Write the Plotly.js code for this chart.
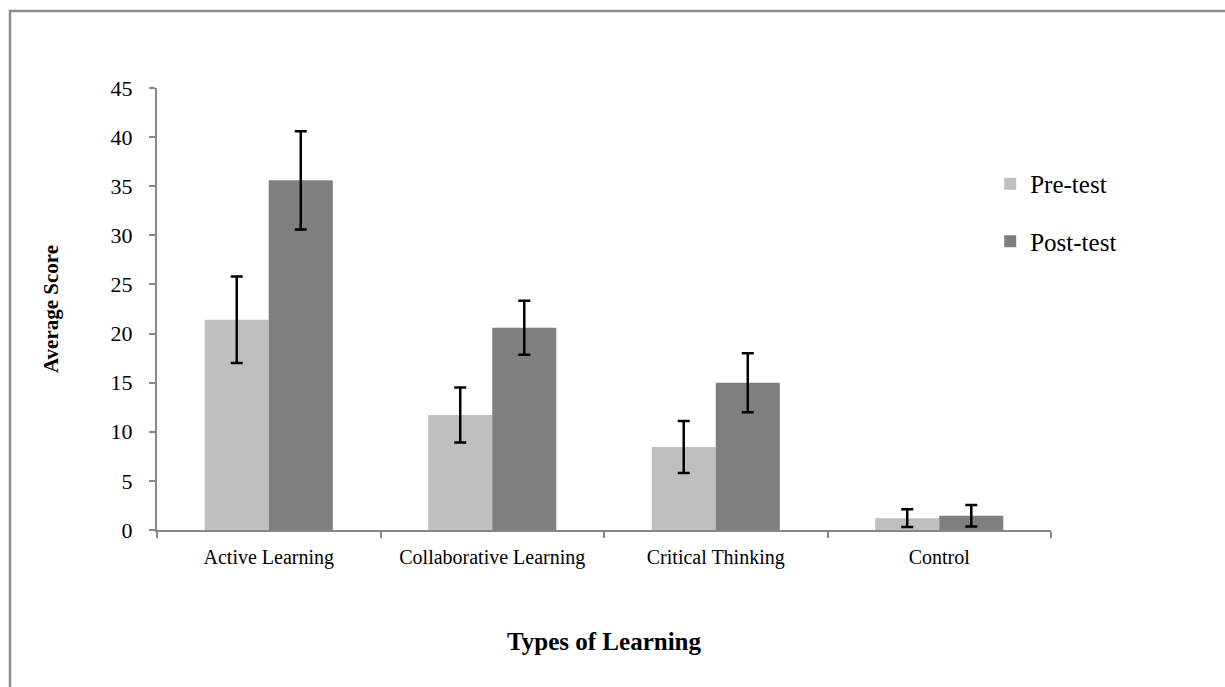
<!DOCTYPE html>
<html>
<head>
<meta charset="utf-8">
<script src="https://cdn.plot.ly/plotly-3.0.1.min.js"></script>
<style>
html,body{margin:0;padding:0;background:#fff;}
#chart{width:1225px;height:687px;}
#chart .legendtext{font-family:"Liberation Serif","Times New Roman",serif !important;}
</style>
</head>
<body>
<div id="chart"></div>
<script>
const categories = ["Active Learning", "Collaborative Learning", "Critical Thinking", "Control"];
const preTest = [21.4, 11.7, 8.45, 1.2];
const preErr = [4.4, 2.8, 2.65, 0.9];
const postTest = [35.6, 20.6, 15.0, 1.45];
const postErr = [5.0, 2.75, 3.0, 1.1];
const yTicks = [0, 5, 10, 15, 20, 25, 30, 35, 40, 45];

const serif = "Liberation Serif, Times New Roman, serif";

const traces = [
  {
    type: "bar", name: "Pre-test", x: categories, y: preTest,
    marker: {color: "#BFBFBF"},
    error_y: {type: "data", array: preErr, visible: true, color: "#000", thickness: 2.5, width: 6},
    legendgroup: "a"
  },
  {
    type: "bar", name: "Post-test", x: categories, y: postTest,
    marker: {color: "#7F7F7F"},
    error_y: {type: "data", array: postErr, visible: true, color: "#000", thickness: 2.5, width: 6},
    legendgroup: "b"
  }
];

const layout = {
  width: 1225, height: 687,
  paper_bgcolor: "#fff", plot_bgcolor: "#fff",
  margin: {l: 157, r: 174, t: 88, b: 157, pad: 0},
  barmode: "group",
  bargap: 0.427, bargroupgap: 0,
  font: {family: serif, color: "#000", size: 24},
  xaxis: {
    type: "category",
    showline: true, linecolor: "#878787", linewidth: 2,
    ticks: "outside", tickson: "boundaries", ticklen: 6, tickcolor: "#878787", tickwidth: 2,
    tickfont: {family: serif, size: 20, color: "#000"},
    ticklabelstandoff: 8,
    showgrid: false, zeroline: false,
    title: {text: "<b>Types of Learning</b>", font: {family: serif, size: 25, color: "#000"}, standoff: 64}
  },
  yaxis: {
    range: [0, 45], tickvals: yTicks,
    showline: true, linecolor: "#878787", linewidth: 2,
    ticks: "outside", ticklen: 6, tickcolor: "#878787", tickwidth: 2,
    tickfont: {family: serif, size: 22, color: "#000"},
    ticklabelstandoff: 12,
    showgrid: false, zeroline: false,
    title: {text: "<b>Average Score</b>", font: {family: serif, size: 21, color: "#000"}, standoff: 46}
  },
  legend: {
    x: 0.932, xanchor: "left", y: 0.835, yanchor: "top",
    font: {family: serif, size: 25, color: "#000"},
    tracegroupgap: 22, bgcolor: "rgba(0,0,0,0)", itemwidth: 30
  },
  shapes: [{
    type: "rect", xref: "paper", yref: "paper",
    x0: -147 / 894, x1: 1300 / 894,
    y0: -200 / 442.5, y1: 1 + 77 / 442.5,
    line: {color: "#8c8c8c", width: 2.5}, fillcolor: "rgba(0,0,0,0)", layer: "below"
  }]
};

Plotly.newPlot("chart", traces, layout, {displayModeBar: false, staticPlot: true});
</script>
</body>
</html>
